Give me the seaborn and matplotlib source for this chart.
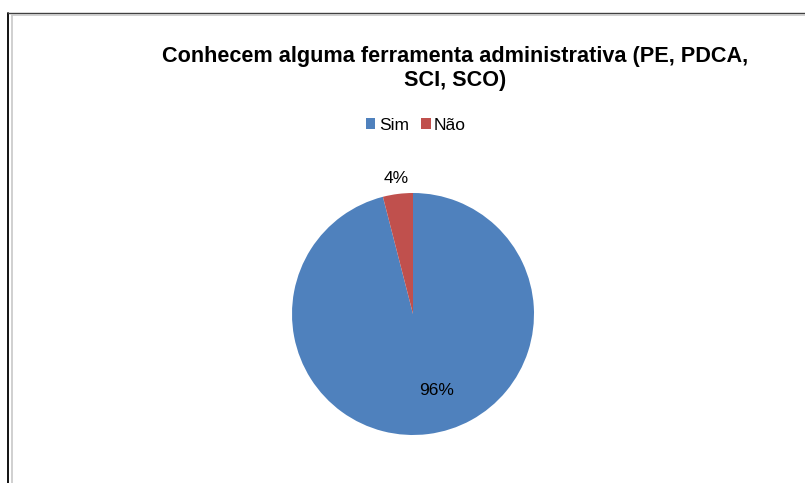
import matplotlib
matplotlib.use('Agg')
import numpy as np
import seaborn as sns
import matplotlib.pyplot as plt
from matplotlib.lines import Line2D
from matplotlib.patches import Patch

# data
categories = ['Sim', 'Não']
values = [96, 4]
title = 'Conhecem alguma ferramenta administrativa (PE, PDCA,\nSCI, SCO)'
colors = ['#4F81BD', '#C0504D']

sns.set_theme(style='white')
plt.rcParams['font.family'] = ['Liberation Sans', 'DejaVu Sans']
plt.rcParams['text.color'] = 'black'

fig = plt.figure(figsize=(8.05, 4.83), dpi=100)
fig.patch.set_facecolor('white')

# frame lines of the chart area
fig.add_artist(Line2D([8 / 805, 8 / 805], [0, 1 - 13 / 483], color='black', lw=1.3))
fig.add_artist(Line2D([8 / 805, 1], [1 - 13.3 / 483, 1 - 13.3 / 483], color='#404040', lw=1.0))
fig.add_artist(Line2D([12 / 805, 12 / 805], [0, 1 - 15 / 483], color='#c8c8c8', lw=1.2))
fig.add_artist(Line2D([12 / 805, 1], [1 - 15 / 483, 1 - 15 / 483], color='#c8c8c8', lw=1.2))

ax = fig.add_axes([292 / 805, 48 / 483, 242 / 805, 242 / 483])
wedges, _ = ax.pie(values, colors=colors, startangle=90, counterclock=False,
                   wedgeprops=dict(linewidth=0))
ax.set_xlim(-1, 1)
ax.set_ylim(-1, 1)
ax.set_aspect('equal')
ax.axis('off')

# percentage labels
label_r = [0.66, 1.13]
label_shift = [10, 0]
for w, v, r, s in zip(wedges, values, label_r, label_shift):
    ang = np.deg2rad((w.theta1 + w.theta2) / 2 + s)
    ax.text(r * np.cos(ang), r * np.sin(ang), f'{v}%', ha='center', va='center',
            fontsize=12.5, color='black', clip_on=False)

fig.text(455 / 805, 1 - 68.5 / 483, title, ha='center', va='center',
         fontsize=15.6, fontweight='bold', linespacing=1.2, color='black')

handles = [Patch(facecolor=c, edgecolor='none', label=l) for c, l in zip(colors, categories)]
fig.legend(handles=handles, loc='center', bbox_to_anchor=(416 / 805, 1 - 125 / 483),
           ncol=2, frameon=False, fontsize=12.5, handlelength=0.55, handleheight=0.55,
           handletextpad=0.2, columnspacing=0.7, labelcolor='black')

plt.savefig('out.png', dpi=100)
